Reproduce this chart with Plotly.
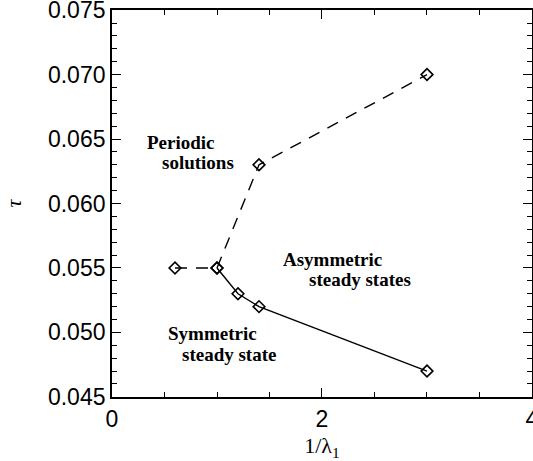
import plotly.graph_objects as go

# Boundary between periodic solutions and the rest (dashed)
periodic_x = [0.6, 1.0, 1.4, 3.0]
periodic_tau = [0.055, 0.055, 0.063, 0.070]

# Boundary between symmetric and asymmetric steady states (solid)
steady_x = [1.0, 1.2, 1.4, 3.0]
steady_tau = [0.055, 0.053, 0.052, 0.047]

x_ticks = [0, 2, 4]
y_ticks = [0.045, 0.050, 0.055, 0.060, 0.065, 0.070, 0.075]

serif = "Liberation Serif, Times New Roman, serif"
sans = "Liberation Sans, Arial, Helvetica, sans-serif"

fig = go.Figure()
fig.add_trace(go.Scatter(
    x=periodic_x, y=periodic_tau, mode="lines+markers",
    line=dict(color="black", width=1.4, dash="12px,9px"),
    marker=dict(symbol="diamond-open", size=9, color="black", line=dict(width=1.6)),
    showlegend=False,
))
fig.add_trace(go.Scatter(
    x=steady_x, y=steady_tau, mode="lines+markers",
    line=dict(color="black", width=1.4),
    marker=dict(symbol="diamond-open", size=9, color="black", line=dict(width=1.6)),
    showlegend=False,
))

labels = [
    ("Periodic", 181, 142),
    ("solutions", 198, 162),
    ("Asymmetric", 333, 260),
    ("steady states", 360, 280),
    ("Symmetric", 212, 334),
    ("steady state", 229, 355),
]
# label positions given in page pixels; convert to axis coordinates
x0, x1, y0, y1 = 112, 532, 397, 10
for text, px, py in labels:
    fig.add_annotation(
        x=(px - x0) / (x1 - x0) * 4,
        y=0.045 + (y0 - py) / (y0 - y1) * 0.030,
        text=f"<b>{text}</b>", showarrow=False,
        font=dict(family=serif, size=19, color="black"),
    )

axis_common = dict(
    showgrid=False, zeroline=False, showline=True, linecolor="black", linewidth=1.8,
    mirror="allticks", ticks="inside", ticklen=9, tickwidth=1.2, tickcolor="black",
    tickfont=dict(family=sans, size=23, color="black"),
    ticklabeloverflow="allow", automargin=False,
)

fig.update_xaxes(
    range=[0, 4.0001], tickvals=x_ticks, ticktext=[str(v) for v in x_ticks],
    minor=dict(ticks="inside", ticklen=5, tickwidth=1.2, tickcolor="black", dtick=0.5, showgrid=False),
    title=dict(text="1/λ<sub>1</sub>", font=dict(family=serif, size=22, color="black"), standoff=14),
    **axis_common,
)
fig.update_yaxes(
    range=[0.04499, 0.07501], tickvals=y_ticks, ticktext=[f"{v:.3f}" for v in y_ticks],
    minor=dict(ticks="inside", ticklen=5, tickwidth=1.2, tickcolor="black", dtick=0.001, showgrid=False),
    title=dict(text="<i>τ</i>", font=dict(family=serif, size=22, color="black"), standoff=20),
    **axis_common,
)

fig.update_layout(
    width=533, height=461,
    margin=dict(l=112, r=1, t=10, b=64),
    plot_bgcolor="white", paper_bgcolor="white",
)

fig.write_html("out.html")
